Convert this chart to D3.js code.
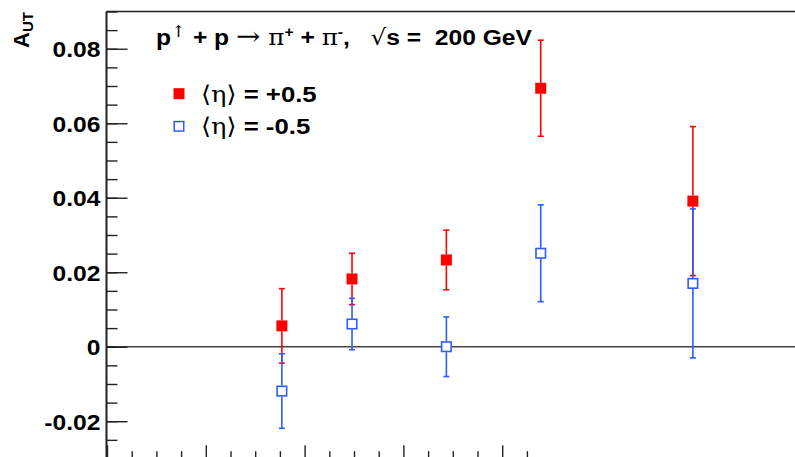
<!DOCTYPE html>
<html><head><meta charset="utf-8">
<script src="https://cdn.jsdelivr.net/npm/d3@7"></script>
<style>
body{margin:0;background:#fff;}
svg{display:block;}
text{font-family:"Liberation Sans",Arial,Helvetica,sans-serif;font-weight:bold;fill:#000;white-space:pre;}
.sym{font-family:"DejaVu Serif","Liberation Serif",serif;font-weight:normal;}
</style></head>
<body>
<script>
// ---- data ----
const xPositions = [3.54, 4.96, 6.87, 8.78, 11.86];          // bin centres (x units)
const etaPlusValues  = [0.0056, 0.0182, 0.0233, 0.0694, 0.0391];
const etaPlusErrors  = [0.0100, 0.0069, 0.0080, 0.0129, 0.0200];
const etaMinusValues = [-0.0119, 0.0061, 0.0000, 0.0251, 0.0170];
const etaMinusErrors = [0.0100, 0.0069, 0.0080, 0.0130, 0.0200];
const yMajorTicks = [-0.02, 0, 0.02, 0.04, 0.06, 0.08];
const yTickLabels = ["-0.02", "0", "0.02", "0.04", "0.06", "0.08"];
const yMinorTicks = d3.range(-0.03, 0.0901, 0.005).map(v => +v.toFixed(3));
const xMajorTicks = [0, 2, 4, 6, 8];
const xMinorTicks = d3.range(0.5, 8.51, 0.5).filter(v => v % 2 !== 0);
const legendLabels = ["= +0.5", "= -0.5"];

const W = 795, H = 457;
const svg = d3.select("body").append("svg").attr("width", W).attr("height", H);

const axisX = 106.5, axisBottomY = 462.2, topY = 11.5;
const x = d3.scaleLinear().domain([0, 14]).range([107, 107 + 14 * 49.4]);
const y = d3.scaleLinear().domain([-0.031, 0.09]).range([axisBottomY, topY]);

// frame top line
svg.append("line").attr("x1", axisX).attr("x2", W).attr("y1", topY).attr("y2", topY)
  .attr("stroke", "#222").attr("stroke-width", 1.6);

// zero line
svg.append("line").attr("x1", axisX).attr("x2", W).attr("y1", y(0)).attr("y2", y(0))
  .attr("stroke", "#444").attr("stroke-width", 1.6);

// y axis minor
const gYm = svg.append("g").attr("transform", `translate(${axisX},0)`)
  .call(d3.axisLeft(y).tickValues(yMinorTicks).tickSizeInner(-11).tickSizeOuter(0).tickFormat(""));
// y axis major
const gY = svg.append("g").attr("transform", `translate(${axisX},0)`)
  .call(d3.axisLeft(y).tickValues(yMajorTicks).tickSizeInner(-21).tickSizeOuter(0).tickPadding(6)
    .tickFormat((d, i) => yTickLabels[i]));
[gYm, gY].forEach(g => {
  g.select(".domain").attr("stroke", "#222").attr("stroke-width", 1.6);
  g.selectAll(".tick line").attr("stroke", "#222").attr("stroke-width", 1.4);
});
gY.selectAll(".tick text").style("font-size", "22px").style("font-family", "Liberation Sans, Arial, sans-serif")
  .style("font-weight", "bold").attr("fill", "#000").attr("dy", "0.36em")
  .attr("x", null).attr("transform", "translate(-6,0) scale(1.12,1)");
gYm.select(".domain").attr("d", `M0,${topY}V${H}`);
gY.select(".domain").attr("d", `M0,${topY}V${H}`);

// x axis (ticks pointing up)
const gXm = svg.append("g").attr("transform", `translate(0,${axisBottomY})`)
  .call(d3.axisBottom(x).tickValues(xMinorTicks).tickSizeInner(-11).tickSizeOuter(0).tickFormat(""));
const gX = svg.append("g").attr("transform", `translate(0,${axisBottomY})`)
  .call(d3.axisBottom(x).tickValues(xMajorTicks).tickSizeInner(-17).tickSizeOuter(0).tickFormat(""));
[gXm, gX].forEach(g => {
  g.select(".domain").remove();
  g.selectAll(".tick line").attr("stroke", "#222").attr("stroke-width", 1.4);
});

// series
const series = [
  {vals: etaPlusValues, errs: etaPlusErrors, color: "#ff0000", filled: true},
  {vals: etaMinusValues, errs: etaMinusErrors, color: "#2b5cff", filled: false}
];
const capW = 3, msz = 11;
series.forEach(s => {
  const g = svg.append("g");
  const pts = xPositions.map((xv, i) => ({x: xv, v: s.vals[i], e: s.errs[i]}));
  pts.forEach(p => {
    const cx = x(p.x), cy = y(p.v), yt = y(p.v + p.e), yb = y(p.v - p.e);
    const half = msz / 2;
    g.append("line").attr("x1", cx).attr("x2", cx).attr("y1", yt).attr("y2", cy - half)
      .attr("stroke", s.color).attr("stroke-width", 1.6);
    g.append("line").attr("x1", cx).attr("x2", cx).attr("y1", cy + half).attr("y2", yb)
      .attr("stroke", s.color).attr("stroke-width", 1.6);
    [yt, yb].forEach(yy => g.append("line").attr("x1", cx - capW).attr("x2", cx + capW)
      .attr("y1", yy).attr("y2", yy).attr("stroke", s.color).attr("stroke-width", 1.6));
    if (s.filled) {
      g.append("rect").attr("x", cx - half).attr("y", cy - half).attr("width", msz).attr("height", msz)
        .attr("fill", s.color);
    } else {
      g.append("rect").attr("x", cx - half + 0.75).attr("y", cy - half + 0.75)
        .attr("width", msz - 1.5).attr("height", msz - 1.5)
        .attr("fill", "#fff").attr("stroke", s.color).attr("stroke-width", 1.6);
    }
  });
});

// title
const t = svg.append("text").attr("transform", "translate(156,45) scale(1.12,1)").style("font-size", "22px");
t.append("tspan").text("p");
t.append("tspan").attr("class", "sym").attr("dy", -8).style("font-size", "16px").text("\u2191");
t.append("tspan").attr("dy", 8).text(" + p ");
t.append("tspan").attr("class", "sym").style("font-size", "26px").text("\u2192");
t.append("tspan").attr("class", "sym").text(" \u03C0");
t.append("tspan").attr("dy", -8).style("font-size", "14px").text("+");
t.append("tspan").attr("dy", 8).text(" + ");
t.append("tspan").attr("class", "sym").text("\u03C0");
t.append("tspan").attr("dy", -8).style("font-size", "14px").text("-");
t.append("tspan").attr("dy", 8).text(",   ");
t.append("tspan").attr("class", "sym").text("\u221A");
t.append("tspan").text("s =  200 GeV");

// legend
series.forEach((s, i) => {
  const cy = 93.7 + i * 32.6, cx = 179;
  if (s.filled) {
    svg.append("rect").attr("x", cx - 5.5).attr("y", cy - 5.5).attr("width", 11).attr("height", 11).attr("fill", s.color);
  } else {
    svg.append("rect").attr("x", cx - 4.75).attr("y", cy - 4.75).attr("width", 9.5).attr("height", 9.5)
      .attr("fill", "#fff").attr("stroke", s.color).attr("stroke-width", 1.5);
  }
  const lt = svg.append("text").attr("transform", `translate(201,${cy + 8}) scale(1.12,1)`).style("font-size", "23px");
  lt.append("tspan").attr("class", "sym").text("\u27E8\u03B7\u27E9");
  lt.append("tspan").text(" " + legendLabels[i]);
});

// y-axis title
const yl = svg.append("text").attr("transform", "translate(29,12) rotate(-90)")
  .attr("text-anchor", "end").style("font-size", "22px");
yl.append("tspan").text("A");
yl.append("tspan").attr("dy", 4).style("font-size", "15px").text("UT");
</script>
</body></html>
